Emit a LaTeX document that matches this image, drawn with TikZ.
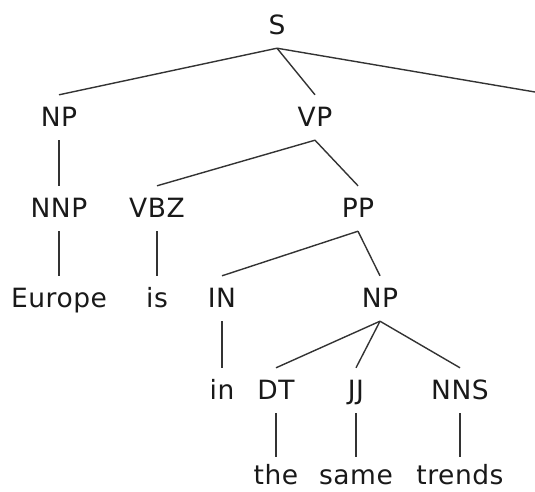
\documentclass[tikz,border=0pt]{standalone}
\usepackage{fontspec}
\setmainfont{DejaVu Sans}
\begin{document}
\begin{tikzpicture}[x=1pt,y=-1pt,
  lbl/.style={anchor=base,inner xsep=0pt,inner ysep=12pt,text height=19pt,text depth=2pt,
    font=\fontsize{26.5}{30}\selectfont\addfontfeatures{LetterSpace=2},text=black!90},
  word/.style={lbl,inner ysep=0pt,text height=27pt,text depth=0pt},
  branch/.style={draw=black!80,line width=1.4pt}]
\useasboundingbox (0,0) rectangle (535,491);
% phrase labels, placed on their baselines
\node[lbl] (S)    at (277,34)  {S};
\node[lbl] (NP)   at (59,126)  {NP};
\node[lbl] (VP)   at (315,126) {VP};
\node[lbl] (NNP)  at (59,217)  {NNP};
\node[lbl] (VBZ)  at (157,217) {VBZ};
\node[lbl] (PP)   at (358,217) {PP};
\node[lbl] (Eur)  at (59,307)  {Europe};
\node[lbl] (is)   at (157,307) {is};
\node[lbl] (IN)   at (222,307) {IN};
\node[lbl] (NPb)  at (380,307) {NP};
\node[lbl] (in)   at (222,399) {in};
\node[lbl] (DT)   at (276,399) {DT};
\node[lbl] (JJ)   at (356,399) {JJ};
\node[lbl] (NNS)  at (460,399) {NNS};
% words on the last row
\node[word] (the)  at (276,484) {the};
\node[word] (same) at (356,484) {same};
\node[word] (trd)  at (460,484) {trends};
\coordinate (Sr) at (535,92);
% branches
\draw[branch] (S.south) -- (NP.north);
\draw[branch] (S.south) -- (VP.north);
\draw[branch] (S.south) -- (Sr);
\draw[branch] (NP.south) -- (NNP.north);
\draw[branch] (VP.south) -- (VBZ.north);
\draw[branch] (VP.south) -- (PP.north);
\draw[branch] (NNP.south) -- (Eur.north);
\draw[branch] (VBZ.south) -- (is.north);
\draw[branch] (PP.south) -- (IN.north);
\draw[branch] (PP.south) -- (NPb.north);
\draw[branch] (IN.south) -- (in.north);
\draw[branch] (NPb.south) -- (DT.north);
\draw[branch] (NPb.south) -- (JJ.north);
\draw[branch] (NPb.south) -- (NNS.north);
\draw[branch] (DT.south) -- (the.north);
\draw[branch] (JJ.south) -- (same.north);
\draw[branch] (NNS.south) -- (trd.north);
\end{tikzpicture}
\end{document}
